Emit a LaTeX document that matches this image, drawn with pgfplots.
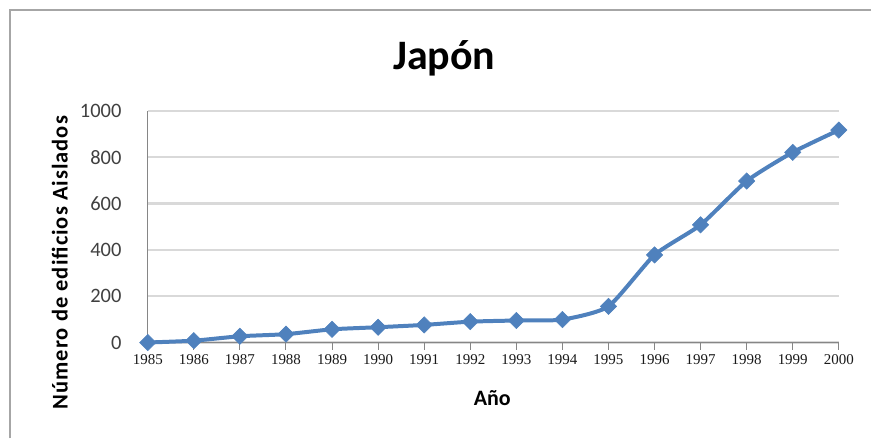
\documentclass[border=0pt]{standalone}
\usepackage{pgfplots}
\pgfplotsset{compat=1.18}
\usepackage{fontspec}
\setmainfont{Carlito}
\newfontfamily\tickfont{Liberation Serif}
\newfontfamily\widefont[LetterSpace=4.5]{Carlito}
\definecolor{serie}{HTML}{4F81BD}
\definecolor{marco}{HTML}{A6A6A6}
\definecolor{rejilla}{HTML}{D9D9D9}
\definecolor{eje}{HTML}{868686}

\begin{document}
\begin{tikzpicture}
% chart area
\path (0,0) rectangle (872pt,439pt);
\draw[marco, line width=2.5pt] (10pt,0pt) -- (10pt,429pt) -- (872pt,429pt);

\begin{axis}[
  at={(148pt,96pt)}, anchor=origin,
  scale only axis, width=692pt, height=232pt,
  xmin=1985, xmax=2000, ymin=0, ymax=1000,
  axis lines*=left,
  axis line style={eje, line width=1pt},
  xtick={1985,1986,1987,1988,1989,1990,1991,1992,1993,1994,1995,1996,1997,1998,1999,2000},
  xticklabels={1985,1986,1987,1988,1989,1990,1991,1992,1993,1994,1995,1996,1997,1998,1999,2000},
  ytick={0,200,400,600,800,1000},
  yticklabels={0,200,400,600,800,1000},
  xtick style={eje, line width=1pt},
  tick align=outside,
  x tick style={/pgfplots/major tick length=7pt},
  y tick style={draw=none},
  xticklabel style={font=\tickfont\fontsize{15}{15}\selectfont, text=black!90, yshift=-4pt},
  yticklabel style={font=\fontsize{20.5}{20.5}\selectfont, text=black!75, anchor=east, inner sep=0pt, xshift=-22pt},
  ymajorgrids,
  grid style={rejilla, line width=2.2pt},
  clip=false,
]
\addplot[serie, line width=4pt, smooth, tension=0.35,
  mark=square*, mark size=5.8pt, mark options={rotate=45, solid, line width=0.5pt}]
  coordinates {
  (1985,0) (1986,8) (1987,27) (1988,36) (1989,57) (1990,66) (1991,76) (1992,90)
  (1993,95) (1994,99) (1995,156) (1996,378) (1997,508) (1998,697) (1999,821) (2000,917)
  };
\node[anchor=base, font=\bfseries\fontsize{42}{42}\selectfont] at (axis description cs:0.429,1.177) {Japón};
\node[anchor=base, font=\bfseries\fontsize{22}{22}\selectfont] at (axis description cs:0.4986,-0.2716) {Año};
\node[rotate=90, anchor=center, font=\widefont\bfseries\fontsize{22.5}{22.5}\selectfont] at (axis description cs:-0.1272,0.345) {Número de edificios Aislados};
\end{axis}
\end{tikzpicture}
\end{document}
